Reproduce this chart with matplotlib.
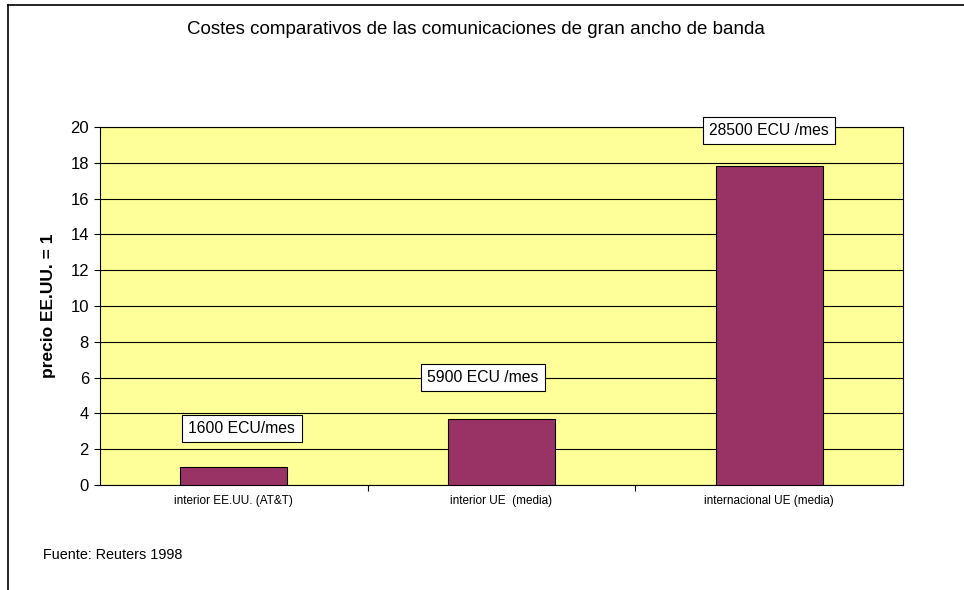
import numpy as np
import matplotlib.pyplot as plt
from matplotlib.lines import Line2D

plt.rcParams['font.family'] = ['Liberation Sans', 'DejaVu Sans']

categories = ['interior EE.UU. (AT&T)', 'interior UE  (media)', 'internacional UE (media)']
values = [1.0, 3.69, 17.8]
box_labels = ['1600 ECU/mes', '5900 ECU /mes', '28500 ECU /mes']
box_x = [0.03, 0.93, 2.0]
box_y = [3.15, 6.0, 19.8]
yticks = np.arange(0, 21, 2)

fig = plt.figure(figsize=(9.64, 5.9), dpi=100)
ax = fig.add_axes([100 / 964, 1 - 485 / 590, 803 / 964, 358 / 590])

x = np.arange(len(categories))
ax.set_facecolor('#FFFF99')
ax.set_axisbelow(True)
ax.yaxis.grid(True, color='black', linewidth=0.8)
ax.bar(x, values, width=0.4, color='#993366', edgecolor='black', linewidth=0.8, zorder=3)

ax.set_xlim(-0.5, 2.5)
ax.set_ylim(0, 20)
ax.set_yticks(yticks)
ax.set_yticklabels([str(v) for v in yticks], fontsize=12)
ax.set_xticks([0.5, 1.5])
ax.set_xticklabels([])
ax.tick_params(axis='x', length=4, color='black')
ax.tick_params(axis='y', length=4, pad=4)
for i, c in enumerate(categories):
    ax.text(i, -0.9, c, ha='center', va='center', fontsize=8.5)
for s in ax.spines.values():
    s.set_linewidth(0.8)
ax.set_ylabel('precio EE.UU. = 1', fontsize=12.5, fontweight='bold', labelpad=10)

for bx, by, lab in zip(box_x, box_y, box_labels):
    ax.text(bx, by, lab, ha='center', va='center', fontsize=11.3, zorder=5,
            bbox=dict(boxstyle='square,pad=0.4', facecolor='white',
                      edgecolor='black', linewidth=0.8))

fig.text(476 / 964, 1 - 29 / 590, 'Costes comparativos de las comunicaciones de gran ancho de banda',
         ha='center', va='center', fontsize=13.5)
fig.text(43 / 964, 1 - 555 / 590, 'Fuente: Reuters 1998', ha='left', va='center', fontsize=10.4)

# chart-area border (top and left only)
fig.add_artist(Line2D([8 / 964, 1], [1 - 5 / 590, 1 - 5 / 590], color='black', linewidth=1.2,
                      transform=fig.transFigure))
fig.add_artist(Line2D([8 / 964, 8 / 964], [0, 1 - 5 / 590], color='black', linewidth=1.2,
                      transform=fig.transFigure))

fig.savefig('out.png', dpi=100)
